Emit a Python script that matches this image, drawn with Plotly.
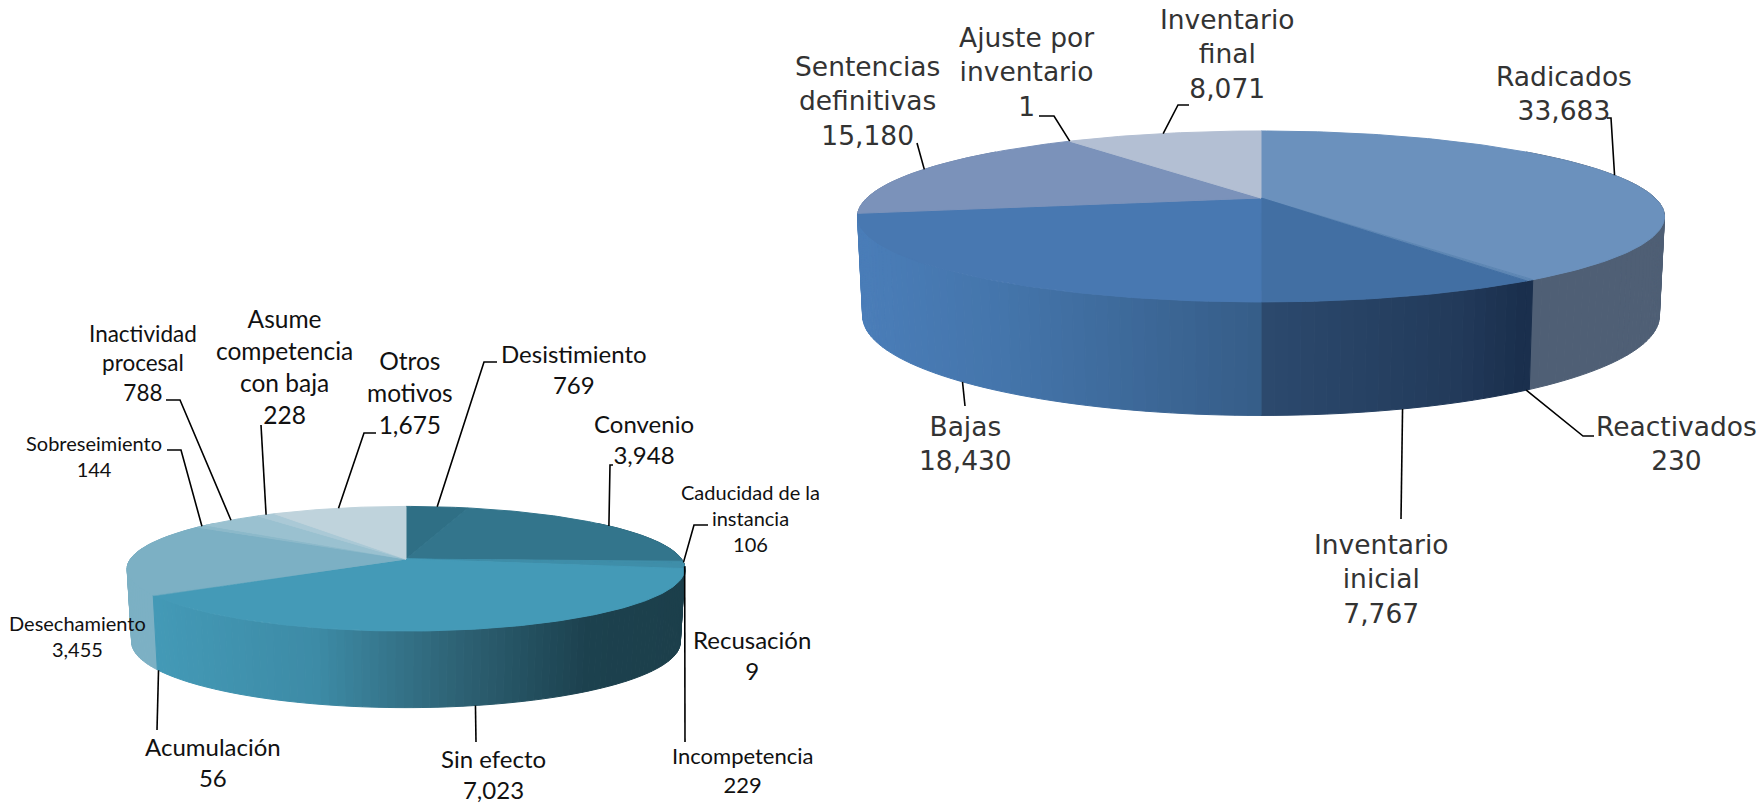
import math
import plotly.graph_objects as go

# ---------- data ----------
right_labels = ["Radicados", "Reactivados", "Inventario inicial", "Bajas",
                "Sentencias definitivas", "Ajuste por inventario", "Inventario final"]
right_values = [33683, 230, 7767, 18430, 15180, 1, 8071]
left_labels = ["Desistimiento", "Convenio", "Caducidad de la instancia", "Recusación",
               "Incompetencia", "Sin efecto", "Acumulación", "Desechamiento",
               "Sobreseimiento", "Inactividad procesal", "Asume competencia con baja",
               "Otros motivos"]
left_values = [769, 3948, 106, 9, 229, 7023, 56, 3455, 144, 788, 228, 1675]

# ---------- style ----------
right_geo = dict(cx=1261, cy=198, a=394, b=81.5, k=0.216, cy2=294.4, a2=389, b2=94.9)
left_geo = dict(cx=406, cy=559, a=275.5, b=60.8, k=0.156, cy2=631.8, a2=271, b2=64)

right_top = ["#6b91bd", "#5d86b3", "#426fa3", "#4878b1", "#7b92ba", "#8a9fc2", "#b3bfd3"]
right_wall = [[(0, "#4f5f75"), (1, "#4f5f75")],
              [(0, "#1a2f4d"), (1, "#1a2f4d")],
              [(0, "#2c4a6e"), (.75, "#223a5a"), (1, "#1a2f4d")],
              [(0, "#4a7db8"), (.35, "#4475ab"), (1, "#365d88")],
              [(0, "#6f86ab"), (1, "#6f86ab")],
              [(0, "#6f86ab"), (1, "#6f86ab")],
              [(0, "#a0aec4"), (1, "#a0aec4")]]
left_top = ["#2f6f85", "#33758c", "#3f8ea9", "#3f8ea9", "#3f8ea9", "#449ab7", "#5fa5bd",
            "#7cb0c4", "#8cb9ca", "#9ac1d0", "#aac9d6", "#bfd3dc"]
left_wall = [[(0, "#26596b"), (1, "#26596b")], [(0, "#26596b"), (1, "#26596b")],
             [(0, "#1c3f4b"), (1, "#1c3f4b")], [(0, "#1c3f4b"), (1, "#1c3f4b")],
             [(0, "#1c3f4b"), (1, "#1c3f4b")],
             [(0, "#4399b6"), (.3, "#3d8ba6"), (.55, "#2f6578"), (.82, "#1c414e"), (1, "#1c3f4b")],
             [(0, "#4399b6"), (1, "#4399b6")],
             [(0, "#7cb0c4"), (1, "#7cb0c4")], [(0, "#7cb0c4"), (1, "#7cb0c4")],
             [(0, "#8cb9ca"), (1, "#8cb9ca")], [(0, "#9ac1d0"), (1, "#9ac1d0")],
             [(0, "#aac9d6"), (1, "#aac9d6")]]

FONT_L = "Lato"
FONT_R = "DejaVu Sans"
COLOR_R = "#333333"


def top_pt(g, t):
    X, Y = math.sin(t), math.cos(t)
    w = 1 / (1 + g["k"] * Y)
    return g["cx"] + g["a"] * X * w, g["cy"] - g["b"] * Y * w


def bot_pt(g, t):
    X, Y = math.sin(t), math.cos(t)
    w = 1 / (1 + g["k"] * Y)
    return g["cx"] + g["a2"] * X * w, g["cy2"] - g["b2"] * Y * w


def hex2rgb(h):
    return [int(h[i:i + 2], 16) for i in (1, 3, 5)]


def ramp(stops, f):
    f = min(max(f, 0), 1)
    for (f0, c0), (f1, c1) in zip(stops, stops[1:]):
        if f <= f1:
            u = 0 if f1 == f0 else (f - f0) / (f1 - f0)
            a, b = hex2rgb(c0), hex2rgb(c1)
            return "rgb(%d,%d,%d)" % tuple(round(p + (q - p) * u) for p, q in zip(a, b))
    return stops[-1][1]


def poly(fig, xs, ys, color):
    fig.add_trace(go.Scatter(x=xs, y=ys, mode="lines", fill="toself", fillcolor=color,
                             line=dict(color=color, width=1), hoverinfo="skip", showlegend=False))


def spans(values):
    total = sum(values)
    out, c = [], 0
    for v in values:
        out.append((c / total * 2 * math.pi, (c + v) / total * 2 * math.pi))
        c += v
    return out


def draw_pie(fig, g, values, tops, walls):
    sp = spans(values)
    step = math.radians(1.5)
    strips = []
    for (t0, t1), stops in zip(sp, walls):
        a0 = max(t0, math.radians(50))
        a1 = min(t1, math.radians(310))
        if a1 <= a0:
            continue
        ends = [bot_pt(g, a0)[0], bot_pt(g, a1)[0]]
        xa, xb = min(ends), max(ends)
        n = max(1, int((a1 - a0) / step))
        for i in range(n):
            u0 = a0 + (a1 - a0) * i / n
            u1 = a0 + (a1 - a0) * (i + 1) / n
            p = [top_pt(g, u0), top_pt(g, u1), bot_pt(g, u1), bot_pt(g, u0)]
            xm = (p[0][0] + p[1][0]) / 2
            f = (xm - xa) / (xb - xa) if xb > xa else 0
            strips.append((math.cos((u0 + u1) / 2), p, ramp(stops, f)))
    # back of the drum first, front last
    strips.sort(key=lambda s: -s[0])
    for _, p, col in strips:
        poly(fig, [q[0] for q in p] + [p[0][0]], [q[1] for q in p] + [p[0][1]], col)
    for (t0, t1), col in zip(sp, tops):
        n = max(2, int((t1 - t0) / math.radians(1)))
        arc = [top_pt(g, t0 + (t1 - t0) * i / n) for i in range(n + 1)]
        xs = [g["cx"]] + [q[0] for q in arc] + [g["cx"]]
        ys = [g["cy"]] + [q[1] for q in arc] + [g["cy"]]
        poly(fig, xs, ys, col)


def anchor(g, values, i, bottom=False):
    t0, t1 = spans(values)[i]
    t = (t0 + t1) / 2
    return bot_pt(g, t) if bottom else top_pt(g, t)


def leader(fig, start, rest):
    xs = [start[0]] + [p[0] for p in rest]
    ys = [start[1]] + [p[1] for p in rest]
    fig.add_trace(go.Scatter(x=xs, y=ys, mode="lines", line=dict(color="#000000", width=1.6),
                             hoverinfo="skip", showlegend=False))


fig = go.Figure()
draw_pie(fig, right_geo, right_values, right_top, right_wall)
draw_pie(fig, left_geo, left_values, left_top, left_wall)

# leader lines: (index, on lower rim?, elbow points)
right_lead = [(0, False, [(1611, 118), (1607, 118)]),
              (1, True, [(1583, 436), (1594, 436)]),
              (2, True, [(1401, 519)]),
              (3, True, [(965, 406)]),
              (4, False, [(917, 143)]),
              (5, False, [(1054, 116), (1039, 116)]),
              (6, False, [(1178, 105), (1189, 105)])]
left_lead = [(0, False, [(484, 362), (497, 362)]),
             (1, False, [(610, 465), (613, 465)]),
             (2, False, [(694, 525), (708, 525)]),
             (4, False, [(685, 742)]),
             (5, True, [(476, 742)]),
             (6, True, [(157, 730)]),
             (8, False, [(181, 450), (167, 450)]),
             (9, False, [(180, 400), (166, 400)]),
             (10, False, [(261, 425)]),
             (11, False, [(364, 433), (376, 433)])]
for i, low, pts in right_lead:
    leader(fig, anchor(right_geo, right_values, i, low), pts)
for i, low, pts in left_lead:
    leader(fig, anchor(left_geo, left_values, i, low), pts)

annots = [
    ("Inventario<br>final<br>8,071", 1227, 54, FONT_R, 26.5, COLOR_R),
    ("Radicados<br>33,683", 1564, 93, FONT_R, 26.5, COLOR_R),
    ("Ajuste por<br>inventario<br>1", 1026, 72, FONT_R, 26.5, COLOR_R),
    ("Sentencias<br>definitivas<br>15,180", 867, 101, FONT_R, 26.5, COLOR_R),
    ("Bajas<br>18,430", 965, 443, FONT_R, 26.5, COLOR_R),
    ("Reactivados<br>230", 1676, 443, FONT_R, 26.5, COLOR_R),
    ("Inventario<br>inicial<br>7,767", 1381, 579, FONT_R, 26.5, COLOR_R),
    ("Otros<br>motivos<br>1,675", 410, 392, FONT_L, 24.5, "#111111"),
    ("Desistimiento<br>769", 574, 369, FONT_L, 24, "#111111"),
    ("Convenio<br>3,948", 644, 439, FONT_L, 24, "#111111"),
    ("Caducidad de la<br>instancia<br>106", 750, 518, FONT_L, 20, "#111111"),
    ("Recusación<br>9", 752, 655, FONT_L, 24, "#111111"),
    ("Incompetencia<br>229", 742, 770, FONT_L, 22, "#111111"),
    ("Sin efecto<br>7,023", 493, 774, FONT_L, 24, "#111111"),
    ("Acumulación<br>56", 213, 762, FONT_L, 24, "#111111"),
    ("Desechamiento<br>3,455", 77, 636, FONT_L, 20, "#111111"),
    ("Sobreseimiento<br>144", 94, 456, FONT_L, 20, "#111111"),
    ("Inactividad<br>procesal<br>788", 143, 363, FONT_L, 22.5, "#111111"),
    ("Asume<br>competencia<br>con baja<br>228", 284, 366, FONT_L, 24.5, "#111111"),
]
for text, x, y, font, size, color in annots:
    fig.add_annotation(x=x, y=y, xref="x", yref="y", text=text, showarrow=False,
                       xanchor="center", yanchor="middle", align="center",
                       font=dict(family=font, size=size, color=color))

fig.update_layout(width=1762, height=804, margin=dict(l=0, r=0, t=0, b=0),
                  paper_bgcolor="white", plot_bgcolor="white", showlegend=False,
                  xaxis=dict(range=[0, 1762], visible=False, fixedrange=True),
                  yaxis=dict(range=[804, 0], visible=False, fixedrange=True))
fig.write_html("out.html", post_script="document.body.style.margin='0';",
               config={"displayModeBar": False})
